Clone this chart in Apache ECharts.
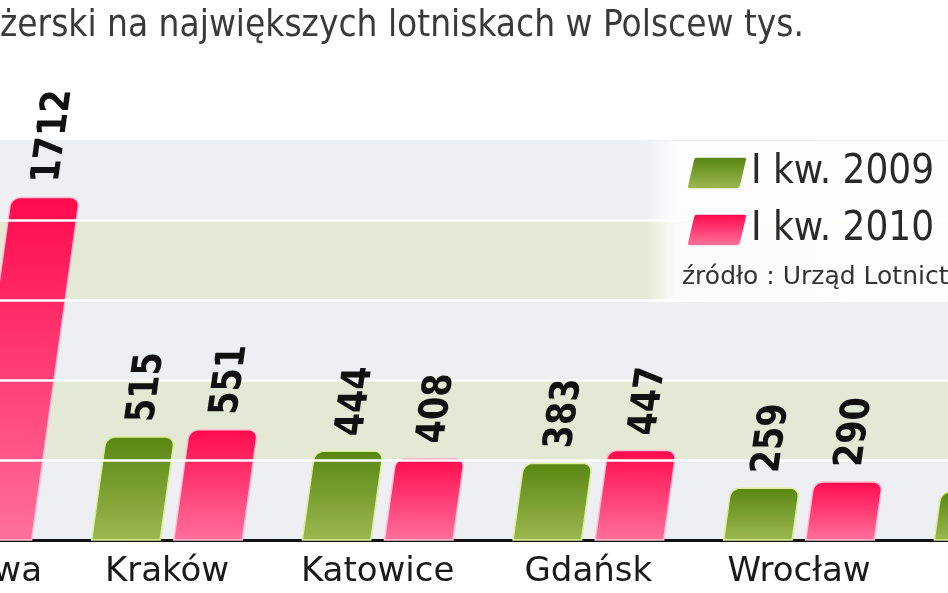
<!DOCTYPE html>
<html><head><meta charset="utf-8">
<script src="https://cdn.jsdelivr.net/npm/echarts@6/dist/echarts.min.js"></script>
<style>html,body{margin:0;padding:0;background:#fff}#c{width:948px;height:593px}</style>
</head><body><div id="c"></div>
<script>
// ---- data ----
const cities = ['Warszawa', 'Kraków', 'Katowice', 'Gdańsk', 'Wrocław', 'Poznań'];
const q1_2009 = [1768, 515, 444, 383, 259, 240];
const q1_2010 = [1712, 551, 408, 447, 290, 262];
const seriesNames = ['I kw. 2009', 'I kw. 2010'];
const gridValues = [400, 800, 1200, 1600];
const titleText = 'żerski na największych lotniskach w Polscew tys.';
const sourceText = 'źródło : Urząd Lotnictwa Cywilnego';

// ---- style ----
const SHEAR = 0.14, RADIUS = 9, GAP = 15;
const fills = [
  ['#588612', '#9db850', '#dcef9c'],
  ['#ff0a4e', '#ff709c', '#ffc2d4']
];

function geom(api, sIdx) {
  const ci = api.value(0), v = api.value(1);
  const p0 = api.coord([ci, 0]), p1 = api.coord([ci, v]);
  const band = api.size([1, 0])[0];
  const w = band * 0.325;
  const cx = p0[0] + band * 0.195 * (sIdx ? 1 : -1);
  return { cx: cx, w: w, y0: p0[1], yt: p1[1], v: v };
}
function barRenderer(sIdx) {
  return function (params, api) {
    const g = geom(api, sIdx);
    const xl = g.cx - g.w / 2, xr = g.cx + g.w / 2, y0 = g.y0, yt = g.yt;
    const X = (x, y) => x + SHEAR * (y0 - y);
    const r = RADIUS;
    const pts = [[X(xl, y0), y0], [X(xr, y0), y0]];
    for (let a = 0; a <= 8; a++) {
      const t = a / 8 * Math.PI / 2;
      const ux = xr - r + r * Math.cos(t), uy = yt + r - r * Math.sin(t);
      pts.push([X(ux, uy), uy]);
    }
    for (let a = 0; a <= 8; a++) {
      const t = Math.PI / 2 + a / 8 * Math.PI / 2;
      const ux = xl + r + r * Math.cos(t), uy = yt + r - r * Math.sin(t);
      pts.push([X(ux, uy), uy]);
    }
    return {
      type: 'polygon', shape: { points: pts },
      style: {
        fill: new echarts.graphic.LinearGradient(0, 0, 0, 1, [
          { offset: 0, color: fills[sIdx][0] }, { offset: 1, color: fills[sIdx][1] }]),
        stroke: fills[sIdx][2], lineWidth: 1.5
      }
    };
  };
}
function labelRenderer(sIdx) {
  return function (params, api) {
    const g = geom(api, sIdx);
    const ys = g.yt - GAP;
    const xs = g.cx + SHEAR * (g.y0 - ys);
    return {
      type: 'text', x: xs, y: ys, rotation: Math.PI / 2, skewY: -Math.atan(SHEAR), scaleX: 0.93,
      style: {
        text: String(g.v), fill: '#111', align: 'left', verticalAlign: 'middle',
        font: 'bold 40px "DejaVu Sans Condensed"'
      }
    };
  };
}

const d2009 = cities.map((c, i) => [i, q1_2009[i]]);
const d2010 = cities.map((c, i) => [i, q1_2010[i]]);

// title scale to match width
const cv = document.createElement('canvas').getContext('2d');
const titleFont = '38px "DejaVu Sans Condensed"';
cv.font = titleFont;
const titleScale = 804 / cv.measureText(titleText).width;

const chart = echarts.init(document.getElementById('c'), null, { renderer: 'canvas' });
chart.setOption({
  animation: false,
  backgroundColor: '#fff',
  grid: { left: -149, top: 140, width: 1264, height: 400, outerBoundsMode: 'none', containLabel: false },
  xAxis: {
    type: 'category', data: cities,
    axisLine: { lineStyle: { color: '#111', width: 3 } },
    axisTick: { show: false },
    axisLabel: { interval: 0, fontSize: 34, fontFamily: 'DejaVu Sans', color: '#1a1a1a', margin: 15, hideOverlap: false }
  },
  yAxis: {
    type: 'value', min: 0, max: 2000, interval: 400,
    axisLine: { show: false }, axisTick: { show: false }, axisLabel: { show: false },
    splitLine: { show: false },
    splitArea: { show: true, areaStyle: { color: ['#edeff3', '#e4e9d6'] } }
  },
  legend: {
    data: seriesNames, orient: 'vertical', left: 683, top: 148,
    itemWidth: 58, itemHeight: 31, itemGap: 17,
    icon: 'path://M9,0 L58,0 Q60,0 59.4,2.5 L53.4,28.5 Q52.8,31 50,31 L2,31 Q0,31 0.6,28.5 L6.6,2.5 Q7.2,0 9,0 Z',
    textStyle: { fontSize: 40, fontFamily: 'DejaVu Sans Condensed', color: '#2a2a2a' },
    z: 10
  },
  graphic: [
    { type: 'rect', left: 645, top: 141, z: 1, silent: true,
      shape: { width: 303, height: 161 },
      style: { fill: new echarts.graphic.LinearGradient(0, 0, 1, 0, [
        { offset: 0, color: 'rgba(255,255,255,0)' }, { offset: 0.1, color: 'rgba(255,255,255,0.88)' },
        { offset: 1, color: 'rgba(255,255,255,0.95)' }]) } },
    { type: 'text', x: 0, y: 26, scaleX: titleScale, z: 10,
      style: { text: titleText, font: titleFont, fill: '#3a3a3a', align: 'left', verticalAlign: 'middle' } },
    { type: 'text', x: 682, y: 277, z: 10,
      style: { text: sourceText, font: '25px "DejaVu Sans"', fill: '#333', align: 'left', verticalAlign: 'middle' } }
  ],
  series: [
    { name: seriesNames[0], type: 'custom', data: d2009, renderItem: barRenderer(0), z: 2,
      encode: { x: 0, y: 1 },
      itemStyle: { color: new echarts.graphic.LinearGradient(0, 0, 0, 1, [
        { offset: 0, color: fills[0][0] }, { offset: 1, color: fills[0][1] }]) } },
    { name: seriesNames[1], type: 'custom', data: d2010, renderItem: barRenderer(1), z: 2,
      encode: { x: 0, y: 1 },
      itemStyle: { color: new echarts.graphic.LinearGradient(0, 0, 0, 1, [
        { offset: 0, color: fills[1][0] }, { offset: 1, color: fills[1][1] }]) } },
    { name: 'grid', type: 'line', data: [], z: 3, silent: true,
      markLine: { z: 3, silent: true, symbol: 'none', label: { show: false },
        lineStyle: { color: '#ffffff', width: 2.5, type: 'solid' },
        data: gridValues.map(v => ({ yAxis: v })) } },
    { name: 'lab2009', type: 'custom', data: d2009, renderItem: labelRenderer(0), z: 6, encode: { x: 0, y: 1 } },
    { name: 'lab2010', type: 'custom', data: d2010, renderItem: labelRenderer(1), z: 6, encode: { x: 0, y: 1 } }
  ]
});
</script></body></html>
